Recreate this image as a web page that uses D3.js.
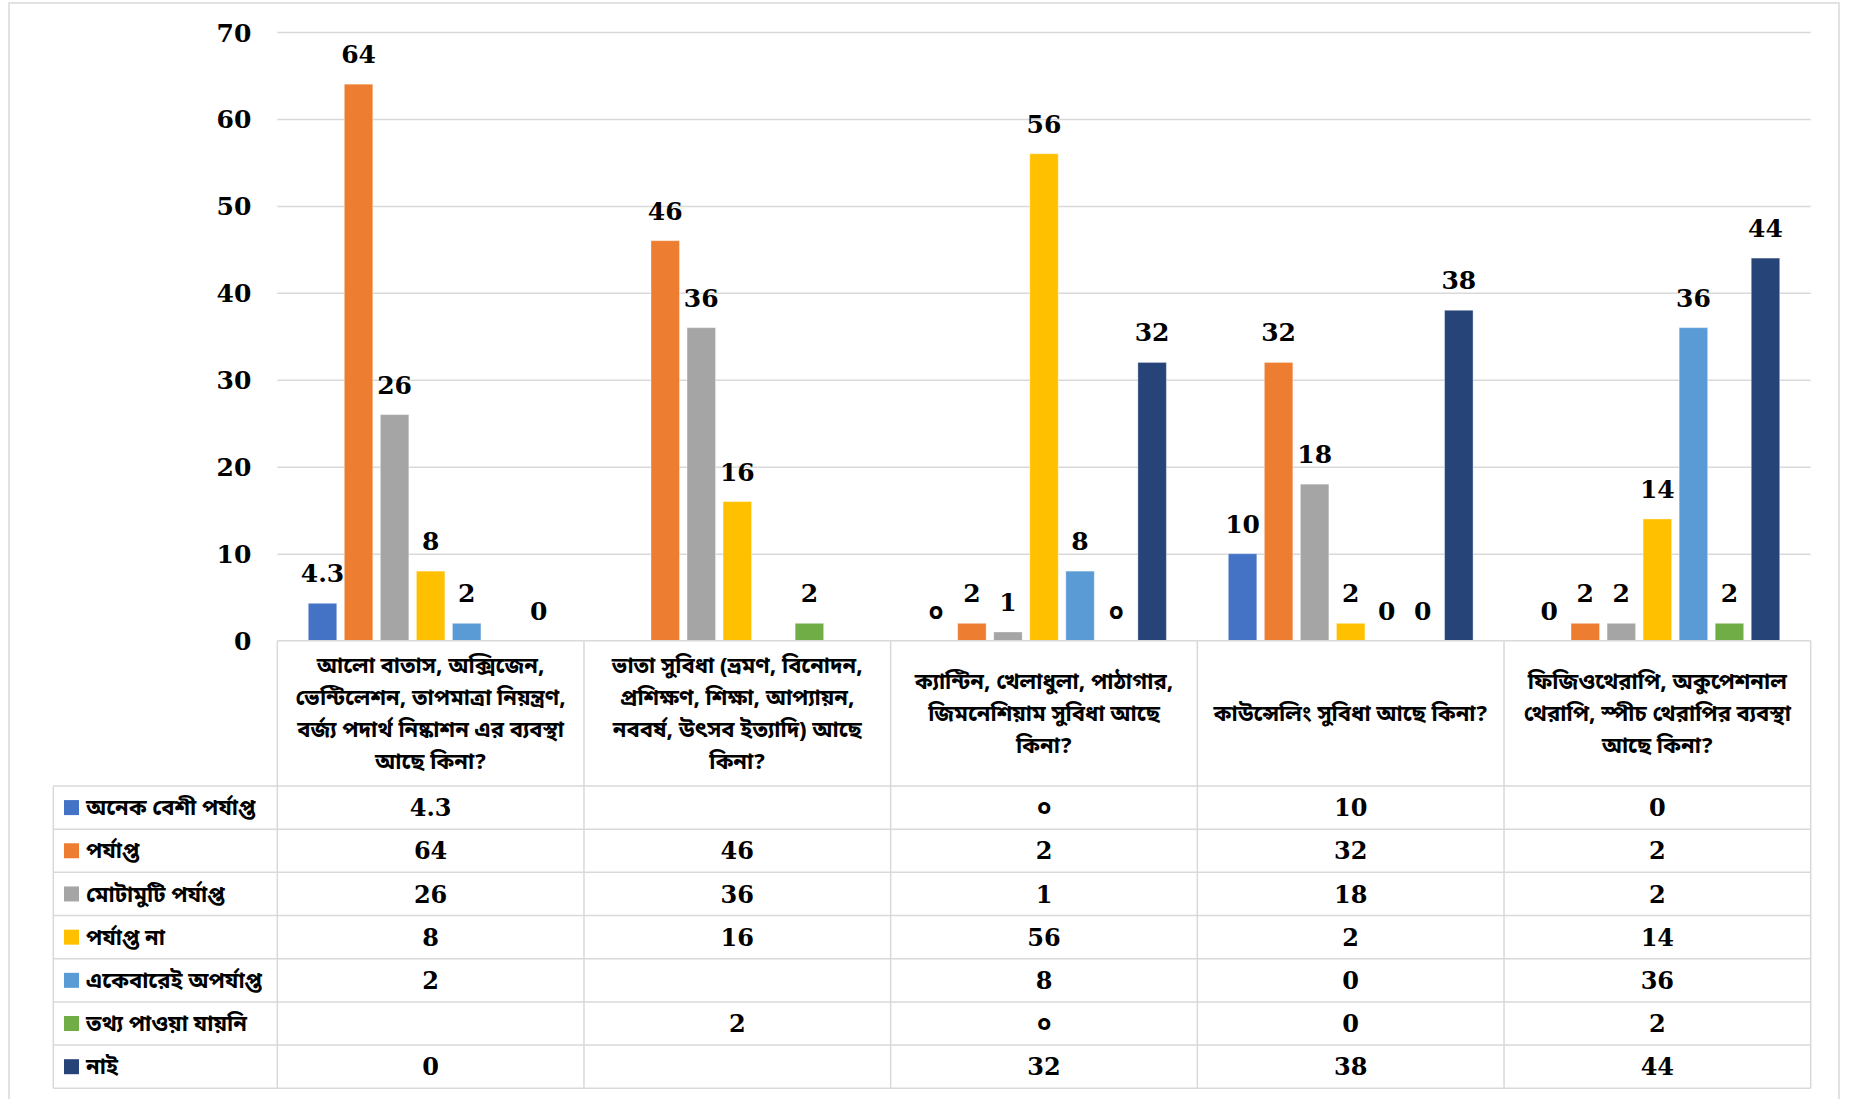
<!DOCTYPE html>
<html>
<head>
<meta charset="utf-8">
<script src="https://cdn.jsdelivr.net/npm/d3@7/dist/d3.min.js"></script>
<style>
  html, body { margin: 0; padding: 0; background: #fff; }
  svg { display: block; }
  .num { font-family: "DejaVu Serif", "Liberation Serif", serif; font-weight: bold; fill: #000; }
  .bn { font-family: "Noto Sans Bengali", "Noto Serif Bengali", "Lohit Bengali", "Noto Sans", sans-serif; font-weight: bold; fill: #000; }
</style>
</head>
<body>
<svg id="chart" width="1863" height="1099"></svg>
<script>
// Survey questions (one per column group), pre-wrapped into lines
const categories = [
  ["আলো বাতাস, অক্সিজেন,", "ভেন্টিলেশন, তাপমাত্রা নিয়ন্ত্রণ,", "বর্জ্য পদার্থ নিষ্কাশন এর ব্যবস্থা", "আছে কিনা?"],
  ["ভাতা সুবিধা (ভ্রমণ, বিনোদন,", "প্রশিক্ষণ, শিক্ষা, আপ্যায়ন,", "নববর্ষ, উৎসব ইত্যাদি) আছে", "কিনা?"],
  ["ক্যান্টিন, খেলাধুলা, পাঠাগার,", "জিমনেশিয়াম সুবিধা আছে", "কিনা?"],
  ["কাউন্সেলিং সুবিধা আছে কিনা?"],
  ["ফিজিওথেরাপি, অকুপেশনাল", "থেরাপি, স্পীচ থেরাপির ব্যবস্থা", "আছে কিনা?"]
];

// Response options
const seriesNames = ["অনেক বেশী পর্যাপ্ত", "পর্যাপ্ত", "মোটামুটি পর্যাপ্ত", "পর্যাপ্ত না", "একেবারেই অপর্যাপ্ত", "তথ্য পাওয়া যায়নি", "নাই"];
const seriesColors = ["#4472C4", "#ED7D31", "#A5A5A5", "#FFC000", "#5B9BD5", "#70AD47", "#264478"];

// Cell text for each response option across the five questions ("" = blank cell)
const anekBeshi   = ["4.3", "", "০", "10", "0"];
const paryapta    = ["64", "46", "2", "32", "2"];
const motamuti    = ["26", "36", "1", "18", "2"];
const paryaptaNa  = ["8", "16", "56", "2", "14"];
const ekebarei    = ["2", "", "8", "0", "36"];
const tathyaNei   = ["", "2", "০", "0", "2"];
const nai         = ["0", "", "32", "38", "44"];

const yTicks = [0, 10, 20, 30, 40, 50, 60, 70];

const seriesCells = [anekBeshi, paryapta, motamuti, paryaptaNa, ekebarei, tathyaNei, nai];

// Bengali digits -> number
const bnDigits = "০১২৩৪৫৬৭৮৯";
function toNumber(s) {
  const latin = s.replace(/[০-৯]/g, ch => String(bnDigits.indexOf(ch)));
  return +latin;
}

const svg = d3.select("#chart");

// Outer chart frame
svg.append("rect")
  .attr("x", 9).attr("y", 3).attr("width", 1830).attr("height", 1120)
  .attr("fill", "none").attr("stroke", "#d9d9d9").attr("stroke-width", 1.5);

const plotLeft = 277.3, plotRight = 1810.7, plotTop = 32, plotBottom = 640.7;

const y = d3.scaleLinear().domain([0, 70]).range([plotBottom, plotTop]);
const x0 = d3.scaleBand().domain(d3.range(categories.length)).range([plotLeft, plotRight]).padding(0);
const groupW = x0.bandwidth();
const x1 = d3.scaleBand().domain(d3.range(seriesNames.length))
  .range([groupW * 0.101, groupW * 0.899]).paddingInner(0.21).paddingOuter(0);

// Gridlines
const grid = svg.append("g").attr("transform", `translate(${plotLeft},0)`)
  .call(d3.axisLeft(y).tickValues(yTicks.filter(t => t > 0)).tickSize(-(plotRight - plotLeft)).tickFormat(""));
grid.select(".domain").remove();
grid.selectAll("line").attr("stroke", "#d9d9d9").attr("stroke-width", 1.5);

// Y axis labels
const yAxis = svg.append("g").attr("transform", `translate(${plotLeft},0)`)
  .call(d3.axisLeft(y).tickValues(yTicks).tickSize(0).tickPadding(26));
yAxis.select(".domain").remove();
yAxis.selectAll("text").attr("class", "num").style("font-size", "25px").attr("dy", "0.36em");

// Bars
const groups = svg.append("g").selectAll("g")
  .data(categories.map((c, i) => i))
  .join("g")
  .attr("transform", i => `translate(${x0(i)},0)`);

const cellsFor = ci => seriesCells.map((arr, si) => ({ si, text: arr[ci], v: arr[ci] === "" ? null : toNumber(arr[ci]) }));

groups.selectAll("rect")
  .data(ci => cellsFor(ci).filter(d => d.v !== null && d.v > 0))
  .join("rect")
  .attr("x", d => x1(d.si))
  .attr("width", x1.bandwidth())
  .attr("y", d => y(d.v))
  .attr("height", d => y(0) - y(d.v))
  .attr("fill", d => seriesColors[d.si])
  .attr("stroke", "#ffffff").attr("stroke-opacity", 0.35).attr("stroke-width", 1);

// Data labels
groups.selectAll("text.lbl")
  .data(ci => cellsFor(ci).filter(d => d.v !== null))
  .join("text")
  .attr("class", d => /[০-৯]/.test(d.text) ? "lbl bn" : "lbl num")
  .attr("x", d => x1(d.si) + x1.bandwidth() / 2)
  .attr("y", d => y(d.v) - 21)
  .attr("text-anchor", "middle")
  .style("font-size", "25px")
  .text(d => d.text);

// Data table
const rowTop = 786, rowH = (1088.3 - 786) / seriesNames.length, legendLeft = 53.3;
const tbl = svg.append("g");
const lineColor = "#d9d9d9";

// Axis line / header cell top
tbl.append("line").attr("x1", plotLeft).attr("x2", plotRight).attr("y1", plotBottom).attr("y2", plotBottom)
  .attr("stroke", lineColor).attr("stroke-width", 1.5);

// Horizontal row lines
tbl.selectAll("line.h").data(d3.range(seriesNames.length + 1)).join("line")
  .attr("class", "h")
  .attr("x1", legendLeft).attr("x2", plotRight)
  .attr("y1", r => rowTop + r * rowH).attr("y2", r => rowTop + r * rowH)
  .attr("stroke", lineColor).attr("stroke-width", 1.5);

// Vertical lines: category boundaries span header + rows
const bounds = d3.range(categories.length + 1).map(i => i < categories.length ? x0(i) : plotRight);
tbl.selectAll("line.v").data(bounds).join("line")
  .attr("class", "v")
  .attr("x1", d => d).attr("x2", d => d)
  .attr("y1", plotBottom).attr("y2", rowTop + seriesNames.length * rowH)
  .attr("stroke", lineColor).attr("stroke-width", 1.5);
tbl.append("line").attr("x1", legendLeft).attr("x2", legendLeft)
  .attr("y1", rowTop).attr("y2", rowTop + seriesNames.length * rowH)
  .attr("stroke", lineColor).attr("stroke-width", 1.5);

// Category header labels
const headerMid = (plotBottom + rowTop) / 2, lineH = 32;
categories.forEach((lines, ci) => {
  const cx = x0(ci) + groupW / 2;
  const t = tbl.append("text").attr("class", "bn").attr("text-anchor", "middle").style("font-size", "22px");
  lines.forEach((ln, li) => {
    t.append("tspan").attr("x", cx)
      .attr("y", headerMid + (li - (lines.length - 1) / 2) * lineH)
      .attr("dy", "0.35em").text(ln);
  });
});

// Legend column
seriesNames.forEach((name, si) => {
  const cy = rowTop + si * rowH + rowH / 2;
  tbl.append("rect").attr("x", 64).attr("y", cy - 7.5).attr("width", 15).attr("height", 15).attr("fill", seriesColors[si]);
  tbl.append("text").attr("class", "bn").attr("x", 86).attr("y", cy).attr("dy", "0.35em")
    .style("font-size", "22px").text(name);
});

// Table values
seriesCells.forEach((arr, si) => {
  const cy = rowTop + si * rowH + rowH / 2;
  arr.forEach((txt, ci) => {
    if (txt === "") return;
    tbl.append("text")
      .attr("class", /[০-৯]/.test(txt) ? "bn" : "num")
      .attr("x", x0(ci) + groupW / 2).attr("y", cy).attr("dy", "0.36em")
      .attr("text-anchor", "middle").style("font-size", "24px").text(txt);
  });
});
</script>
</body>
</html>
